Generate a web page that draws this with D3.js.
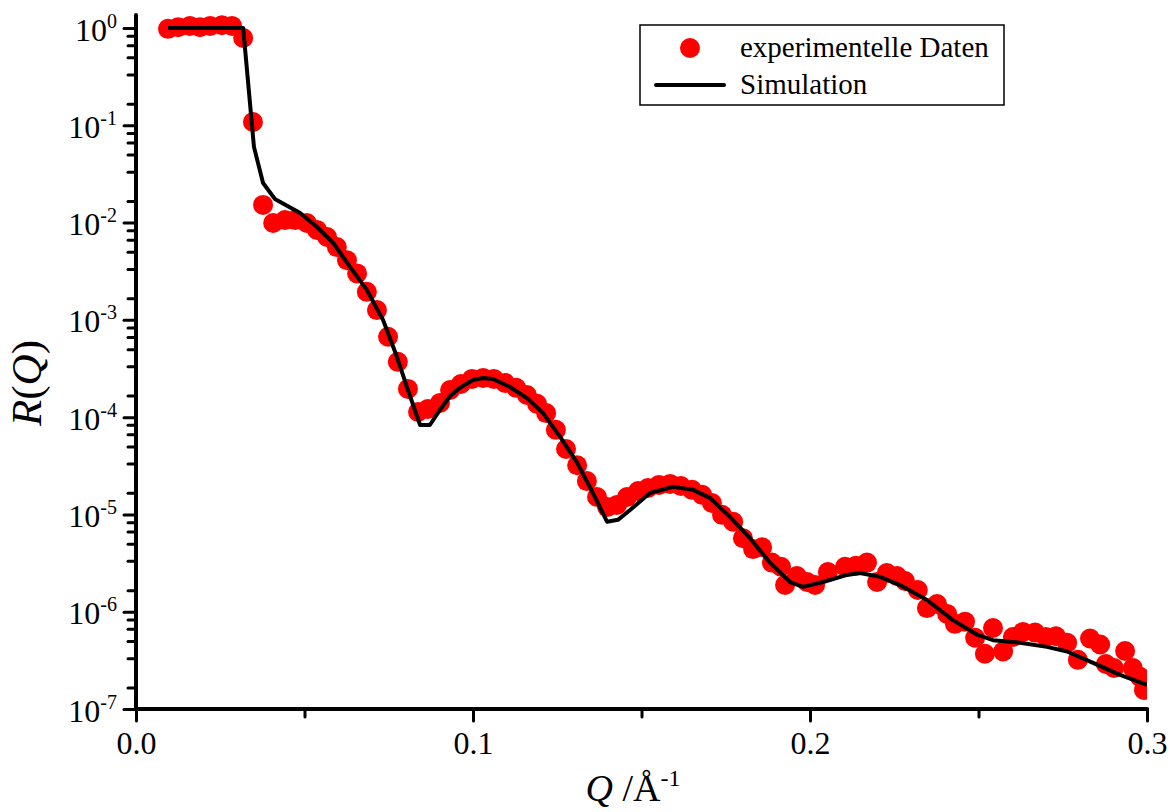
<!DOCTYPE html>
<html><head><meta charset="utf-8">
<script src="https://cdn.jsdelivr.net/npm/d3@7"></script>
<style>
body{margin:0;background:#fff}
svg{display:block}
text{font-family:"Liberation Serif","Times New Roman",serif;fill:#000}
</style>
</head><body>
<svg id="chart" width="1172" height="812"></svg>
<script>
// ---- data ----
const expQ = [0.0095,0.0125,0.0160,0.0190,0.0220,0.0255,0.0285,0.0318,0.0347,0.0377,
  0.0407,0.0442,0.0472,0.0507,0.0537,0.0567,0.0596,0.0626,0.0656,0.0685,
  0.0715,0.0748,0.0777,0.0807,0.0837,0.0866,0.0902,0.0932,0.0964,0.0997,
  0.1030,0.1062,0.1095,0.1128,0.1160,0.1190,0.1217,0.1246,0.1276,0.1309,
  0.1338,0.1368,0.1398,0.1427,0.1457,0.1490,0.1519,0.1552,0.1585,0.1617,
  0.1650,0.1680,0.1709,0.1739,0.1772,0.1801,0.1831,0.1858,0.1887,0.1914,
  0.1926,0.1961,0.1991,0.2015,0.2053,0.2104,0.2136,0.2169,0.2199,0.2228,
  0.2258,0.2282,0.2320,0.2347,0.2377,0.2407,0.2430,0.2460,0.2490,0.2519,
  0.2543,0.2573,0.2602,0.2632,0.2668,0.2700,0.2730,0.2763,0.2795,0.2831,
  0.2861,0.2878,0.2902,0.2935,0.2958,0.2979,0.2991];
const expR = [0.98,1.02,1.05,1.02,1.05,1.07,1.05,0.79,0.108,0.0152,
  0.0099,0.0106,0.0106,0.0099,0.0084,0.0071,0.0056,0.0041,0.0030,0.00194,
  0.00126,6.7e-4,3.7e-4,1.95e-4,1.13e-4,1.21e-4,1.40e-4,1.90e-4,2.19e-4,2.47e-4,
  2.53e-4,2.47e-4,2.25e-4,2.0e-4,1.69e-4,1.37e-4,1.10e-4,7.4e-5,4.7e-5,3.2e-5,
  2.2e-5,1.51e-5,1.19e-5,1.25e-5,1.51e-5,1.74e-5,1.87e-5,2.01e-5,2.06e-5,1.96e-5,
  1.79e-5,1.59e-5,1.31e-5,9.9e-6,8.4e-6,5.7e-6,4.4e-6,4.6e-6,3.2e-6,2.9e-6,
  1.88e-6,2.33e-6,2.02e-6,1.88e-6,2.56e-6,2.9e-6,2.96e-6,3.2e-6,2.02e-6,2.5e-6,
  2.33e-6,2.07e-6,1.67e-6,1.09e-6,1.20e-6,9.5e-7,7.5e-7,7.9e-7,5.4e-7,3.7e-7,
  6.8e-7,3.9e-7,5.5e-7,6.2e-7,6.1e-7,5.5e-7,5.6e-7,4.8e-7,3.2e-7,5.3e-7,
  4.6e-7,2.9e-7,2.64e-7,3.95e-7,2.64e-7,2.14e-7,1.57e-7];

const simQ = [0.0095,0.0318,0.0350,0.0377,0.0412,0.0487,0.0537,0.0585,0.0635,0.0685,
  0.0733,0.0774,0.0804,0.0843,0.0872,0.0902,0.0932,0.0961,0.1000,0.1030,
  0.1059,0.1110,0.1160,0.1208,0.1258,0.1309,0.1356,0.1398,0.1430,0.1466,
  0.1525,0.1593,0.1653,0.1703,0.1763,0.1822,0.1881,0.1941,0.1979,0.2039,
  0.2110,0.2148,0.2208,0.2267,0.2347,0.2424,0.2496,0.2543,0.2623,0.2703,
  0.2763,0.2840,0.2920,0.3000];
const simR = [1,1,0.060,0.0255,0.0175,0.01255,0.0090,0.0062,0.0035,0.00203,
  0.00100,4.2e-4,2.04e-4,8.3e-5,8.3e-5,1.19e-4,1.65e-4,2.0e-4,2.41e-4,2.53e-4,
  2.47e-4,2.04e-4,1.57e-4,1.10e-4,6.3e-5,3.4e-5,1.66e-5,8.4e-6,8.8e-6,1.11e-5,
  1.66e-5,1.92e-5,1.79e-5,1.48e-5,9.4e-6,5.7e-6,3.2e-6,2.02e-6,1.80e-6,2.02e-6,
  2.39e-6,2.5e-6,2.28e-6,1.88e-6,1.32e-6,8.2e-7,5.8e-7,5.1e-7,4.8e-7,4.35e-7,
  3.9e-7,2.98e-7,2.24e-7,1.77e-7];

const xMajorTicks = [0.0, 0.1, 0.2, 0.3];
const xTickLabels = ["0.0", "0.1", "0.2", "0.3"];
const xMinorTicks = [0.05, 0.15, 0.25];
const yMajorExponents = [0, -1, -2, -3, -4, -5, -6, -7];
const yMinorMultipliers = [10/6, 20/6, 30/6, 40/6, 50/6];
const legendLabels = ["experimentelle Daten", "Simulation"];

// ---- layout ----
const svg = d3.select("#chart");
const X0 = 136, X1 = 1147, Y0 = 709, Y1 = 28, YTOP = 15;
const x = d3.scaleLinear().domain([0, 0.3]).range([X0, X1]);
const y = d3.scaleLog().domain([1e-7, 1]).range([Y0, Y1]);

svg.append("defs").append("clipPath").attr("id", "plotclip")
  .append("rect").attr("x", X0).attr("y", 0).attr("width", X1 - X0).attr("height", Y0);

const plot = svg.append("g").attr("clip-path", "url(#plotclip)");
const expData = expQ.map((q, i) => ({q, r: expR[i]}));
const simData = simQ.map((q, i) => ({q, r: simR[i]}));

plot.selectAll("circle.exp").data(expData).enter().append("circle")
  .attr("class", "exp")
  .attr("cx", d => x(d.q)).attr("cy", d => y(d.r)).attr("r", 10)
  .attr("fill", "#ff0000");

plot.append("path").datum(simData)
  .attr("d", d3.line().x(d => x(d.q)).y(d => y(d.r)))
  .attr("fill", "none").attr("stroke", "#000").attr("stroke-width", 4)
  .attr("stroke-linejoin", "round");

// ---- axes ----
const styleAxis = g => {
  g.select(".domain").remove();
  g.selectAll(".tick line").attr("stroke", "#000").attr("stroke-width", 3).attr("stroke-linecap", "round");
};

// x minor
svg.append("g").attr("transform", `translate(0,${Y0})`)
  .call(d3.axisBottom(x).tickValues(xMinorTicks).tickSize(8).tickFormat(""))
  .call(styleAxis);
// x major
const gx = svg.append("g").attr("transform", `translate(0,${Y0})`)
  .call(d3.axisBottom(x).tickValues(xMajorTicks).tickSize(12)
    .tickFormat((d, i) => xTickLabels[i]))
  .call(styleAxis);
gx.selectAll(".tick text").attr("font-size", 32).attr("font-family", "Liberation Serif")
  .attr("dy", null).attr("y", 45);

// y minor
const minorVals = [];
yMajorExponents.forEach(e => yMinorMultipliers.forEach(m => {
  const v = m * Math.pow(10, e - 1);
  if (v >= 1e-7 && v <= 1) minorVals.push(v);
}));
svg.append("g").attr("transform", `translate(${X0},0)`)
  .call(d3.axisLeft(y).tickValues(minorVals).tickSize(8).tickFormat(""))
  .call(styleAxis);
// y major
const gy = svg.append("g").attr("transform", `translate(${X0},0)`)
  .call(d3.axisLeft(y).tickValues(yMajorExponents.map(e => Math.pow(10, e))).tickSize(12).tickFormat(""))
  .call(styleAxis);
gy.selectAll(".tick").each(function(d, i) {
  const t = d3.select(this).select("text");
  t.attr("x", -19).attr("y", 12).attr("dy", null).attr("text-anchor", "end")
    .attr("font-size", 32).attr("font-family", "Liberation Serif");
  t.text(null);
  t.append("tspan").text("10");
  t.append("tspan").attr("font-size", 20).attr("dy", -13).text(String(yMajorExponents[i]));
});

// axis lines
svg.append("line").attr("x1", X0).attr("x2", X0).attr("y1", YTOP).attr("y2", Y0)
  .attr("stroke", "#000").attr("stroke-width", 4).attr("stroke-linecap", "round");
svg.append("line").attr("x1", X0).attr("x2", X1).attr("y1", Y0).attr("y2", Y0)
  .attr("stroke", "#000").attr("stroke-width", 4).attr("stroke-linecap", "round");

// axis titles
const xt = svg.append("text").attr("x", 633).attr("y", 801).attr("text-anchor", "middle")
  .attr("font-size", 38);
xt.append("tspan").attr("font-style", "italic").text("Q");
xt.append("tspan").text(" /Å");
xt.append("tspan").attr("font-size", 24).attr("dy", -15).text("-1");

const yt = svg.append("text").attr("transform", "translate(41,383) rotate(-90)")
  .attr("text-anchor", "middle").attr("font-size", 43);
yt.append("tspan").attr("font-style", "italic").text("R");
yt.append("tspan").text("(");
yt.append("tspan").attr("font-style", "italic").text("Q");
yt.append("tspan").text(")");

// ---- legend ----
const lg = svg.append("g");
lg.append("rect").attr("x", 640).attr("y", 25).attr("width", 364).attr("height", 80)
  .attr("fill", "#fff").attr("stroke", "#000").attr("stroke-width", 1.5);
lg.append("circle").attr("cx", 690).attr("cy", 48).attr("r", 10).attr("fill", "#ff0000");
lg.append("line").attr("x1", 656).attr("x2", 724).attr("y1", 85).attr("y2", 85)
  .attr("stroke", "#000").attr("stroke-width", 4).attr("stroke-linecap", "round");
lg.append("text").attr("x", 740).attr("y", 57).attr("font-size", 29).text(legendLabels[0]);
lg.append("text").attr("x", 740).attr("y", 94).attr("font-size", 29).text(legendLabels[1]);
</script>
</body></html>
